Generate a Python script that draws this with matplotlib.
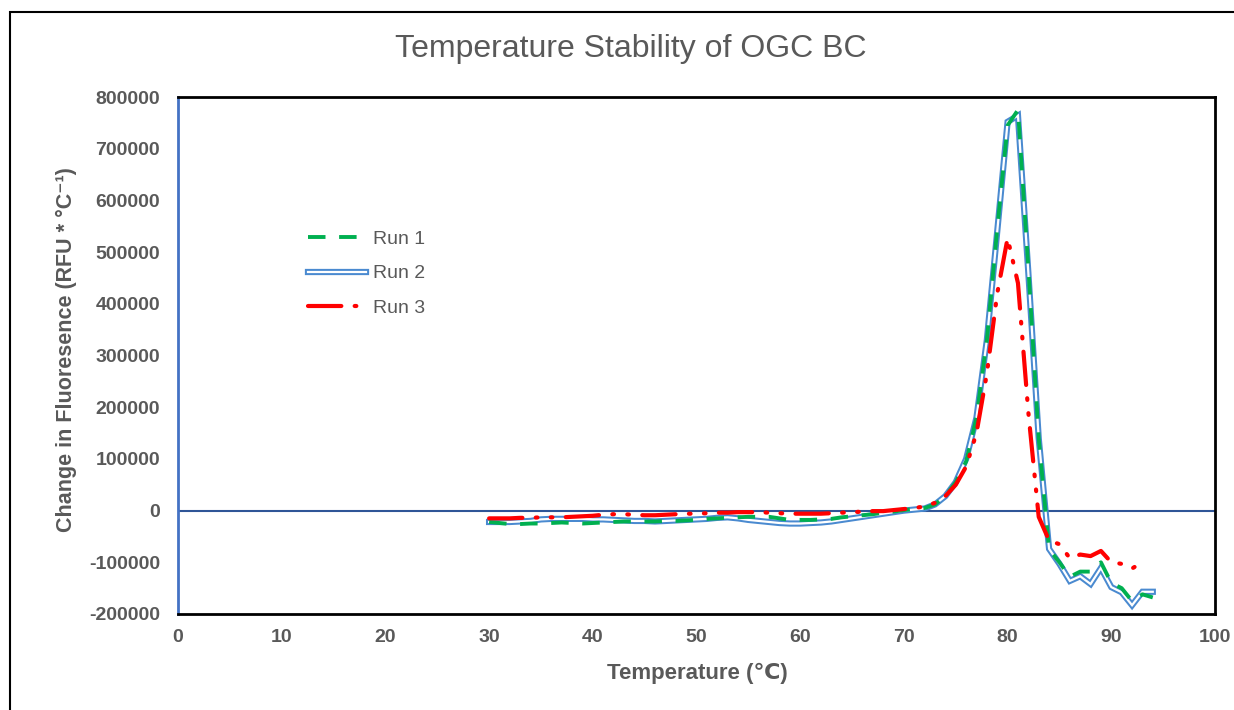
import matplotlib
matplotlib.use("Agg")
import matplotlib.pyplot as plt
from matplotlib.lines import Line2D
from matplotlib.patches import Rectangle

plt.rcParams['font.family'] = ['Liberation Sans', 'DejaVu Sans']

temperature = [30, 31, 32, 33, 34, 35, 36, 37, 38, 39, 40, 41, 42, 43, 44, 45, 46, 47, 48, 49,
               50, 51, 52, 53, 54, 55, 56, 57, 58, 59, 60, 61, 62, 63, 64, 65, 66, 67, 68, 69,
               70, 71, 72, 73, 74, 75, 76, 77, 78, 79, 80, 81, 82, 83, 84, 85, 86, 87, 88, 89,
               90, 91, 92, 93, 94]

run1 = [-22000, -24000, -26000, -26000, -25000, -25000, -24000, -23000, -24000, -25000,
        -24000, -23000, -22000, -21000, -21000, -21000, -21000, -20000, -20000, -19000,
        -18000, -16000, -15000, -14000, -13000, -12000, -12000, -12000, -15000, -18000,
        -18000, -18000, -17000, -16000, -13000, -11000, -9000, -7000, -4000, -2000,
        1000, 3000, 5000, 12000, 28000, 55000, 95000, 180000, 330000, 545000,
        745000, 775000, 470000, 140000, -75000, -100000, -128000, -118000, -118000, -100000,
        -140000, -150000, -175000, -162000, -168000]

run2 = [-22000, -22000, -22000, -21000, -20000, -17000, -16000, -16000, -16000, -16000,
        -17000, -17000, -18000, -19000, -20000, -20000, -21000, -20000, -19000, -18000,
        -17000, -16000, -14000, -13000, -15000, -18000, -20000, -22000, -24000, -25000,
        -25000, -24000, -23000, -21000, -18000, -15000, -12000, -9000, -6000, -3000,
        0, 2000, 4000, 12000, 28000, 55000, 100000, 180000, 330000, 540000,
        752000, 764000, 460000, 140000, -74000, -103000, -136000, -127000, -142000, -111000,
        -148000, -158000, -183000, -157000, -157000]

run3 = [-15000, -15000, -15000, -14000, -14000, -13000, -13000, -13000, -12000, -11000,
        -10000, -8000, -7000, -7000, -8000, -9000, -9000, -8000, -7000, -6000,
        -6000, -5000, -4000, -4000, -3000, -3000, -3000, -4000, -5000, -6000,
        -6000, -6000, -6000, -5000, -4000, -3000, -2000, -1000, -1000, 1000,
        3000, 5000, 8000, 15000, 28000, 50000, 85000, 150000, 265000, 420000,
        527000, 440000, 190000, -12000, -58000, -65000, -92000, -85000, -88000, -78000,
        -100000, -103000, -112000, -100000]

x_ticks = [0, 10, 20, 30, 40, 50, 60, 70, 80, 90, 100]
y_ticks = [-200000, -100000, 0, 100000, 200000, 300000, 400000, 500000, 600000, 700000, 800000]

GRAY = '#595959'
GREEN = '#00B050'
BLUE = '#4A8AD0'
RED = '#FF0000'

fig = plt.figure(figsize=(12.34, 7.10), dpi=100)
fig.patch.set_facecolor('white')

# outer chart border
fig.patches.append(Rectangle((10 / 1234, -0.1), 1.2, 1.1 - 12 / 710,
                             transform=fig.transFigure, fill=False,
                             edgecolor='black', linewidth=1.5))

ax = fig.add_axes([178 / 1234, 1 - 614 / 710, (1215 - 178) / 1234, (614 - 97) / 710])
ax.set_xlim(0, 100)
ax.set_ylim(-200000, 800000)
ax.set_xticks(x_ticks)
ax.set_yticks(y_ticks)
ax.set_xticklabels([str(v) for v in x_ticks])
ax.set_yticklabels([str(v) for v in y_ticks])
ax.tick_params(length=0, labelsize=14, labelcolor=GRAY)
ax.tick_params(axis='y', pad=13)
ax.tick_params(axis='x', pad=11)
for lab in ax.get_xticklabels() + ax.get_yticklabels():
    lab.set_fontweight('bold')

for side in ['top', 'right', 'bottom']:
    ax.spines[side].set_color('black')
    ax.spines[side].set_linewidth(2)
ax.spines['left'].set_color('#4472C4')
ax.spines['left'].set_linewidth(2)

ax.axhline(0, color='#2F5597', linewidth=1.5, zorder=1)

# Run 2: double line (blue outline, white centre)
ax.plot(temperature, run2, color=BLUE, linewidth=4.5, solid_joinstyle='miter', zorder=2)
ax.plot(temperature, run2, color='white', linewidth=1.6, solid_joinstyle='miter', zorder=2.1)
# Run 1: green dashed
ax.plot(temperature, run1, color=GREEN, linewidth=2.8, linestyle=(0, (4.5, 3.5)), zorder=3)
# Run 3: red long dash dot dot
ax.plot(temperature[:len(run3)], run3, color=RED, linewidth=3, dash_capstyle='round',
        linestyle=(0, (8, 3.2, 0.4, 3.2, 0.4, 3.2)), zorder=4)

h1 = Line2D([], [], color=GREEN, linewidth=2.8, linestyle=(0, (4.5, 3.5)))
h2a = Line2D([], [], color=BLUE, linewidth=4.5)
h2b = Line2D([], [], color='white', linewidth=1.6)
h3 = Line2D([], [], color=RED, linewidth=3, dash_capstyle='round',
            linestyle=(0, (8, 3.2, 0.4, 3.2, 0.4, 3.2)))
leg = ax.legend([h1, (h2a, h2b), h3], ['Run 1', 'Run 2', 'Run 3'],
                loc='upper left', bbox_to_anchor=((294 - 178) / 1037, 1 - (217 - 97) / 517),
                frameon=False, fontsize=14, handlelength=3.0, labelspacing=0.85,
                handletextpad=0.35, borderpad=0.2)
for t in leg.get_texts():
    t.set_color(GRAY)

fig.text(631 / 1234, 1 - 49 / 710, 'Temperature Stability of OGC BC', ha='center', va='center',
         fontsize=23, color=GRAY)
fig.text(697 / 1234, 1 - 673 / 710, 'Temperature (\u2103)', ha='center', va='center',
         fontsize=16, fontweight='bold', color=GRAY)
fig.text(66 / 1234, 1 - 350 / 710, 'Change in Fluoresence (RFU * \u00b0C\u207b\u00b9)',
         ha='center', va='center', rotation=90, fontsize=15.5, fontweight='bold', color=GRAY)

fig.savefig('out.png', dpi=100)
